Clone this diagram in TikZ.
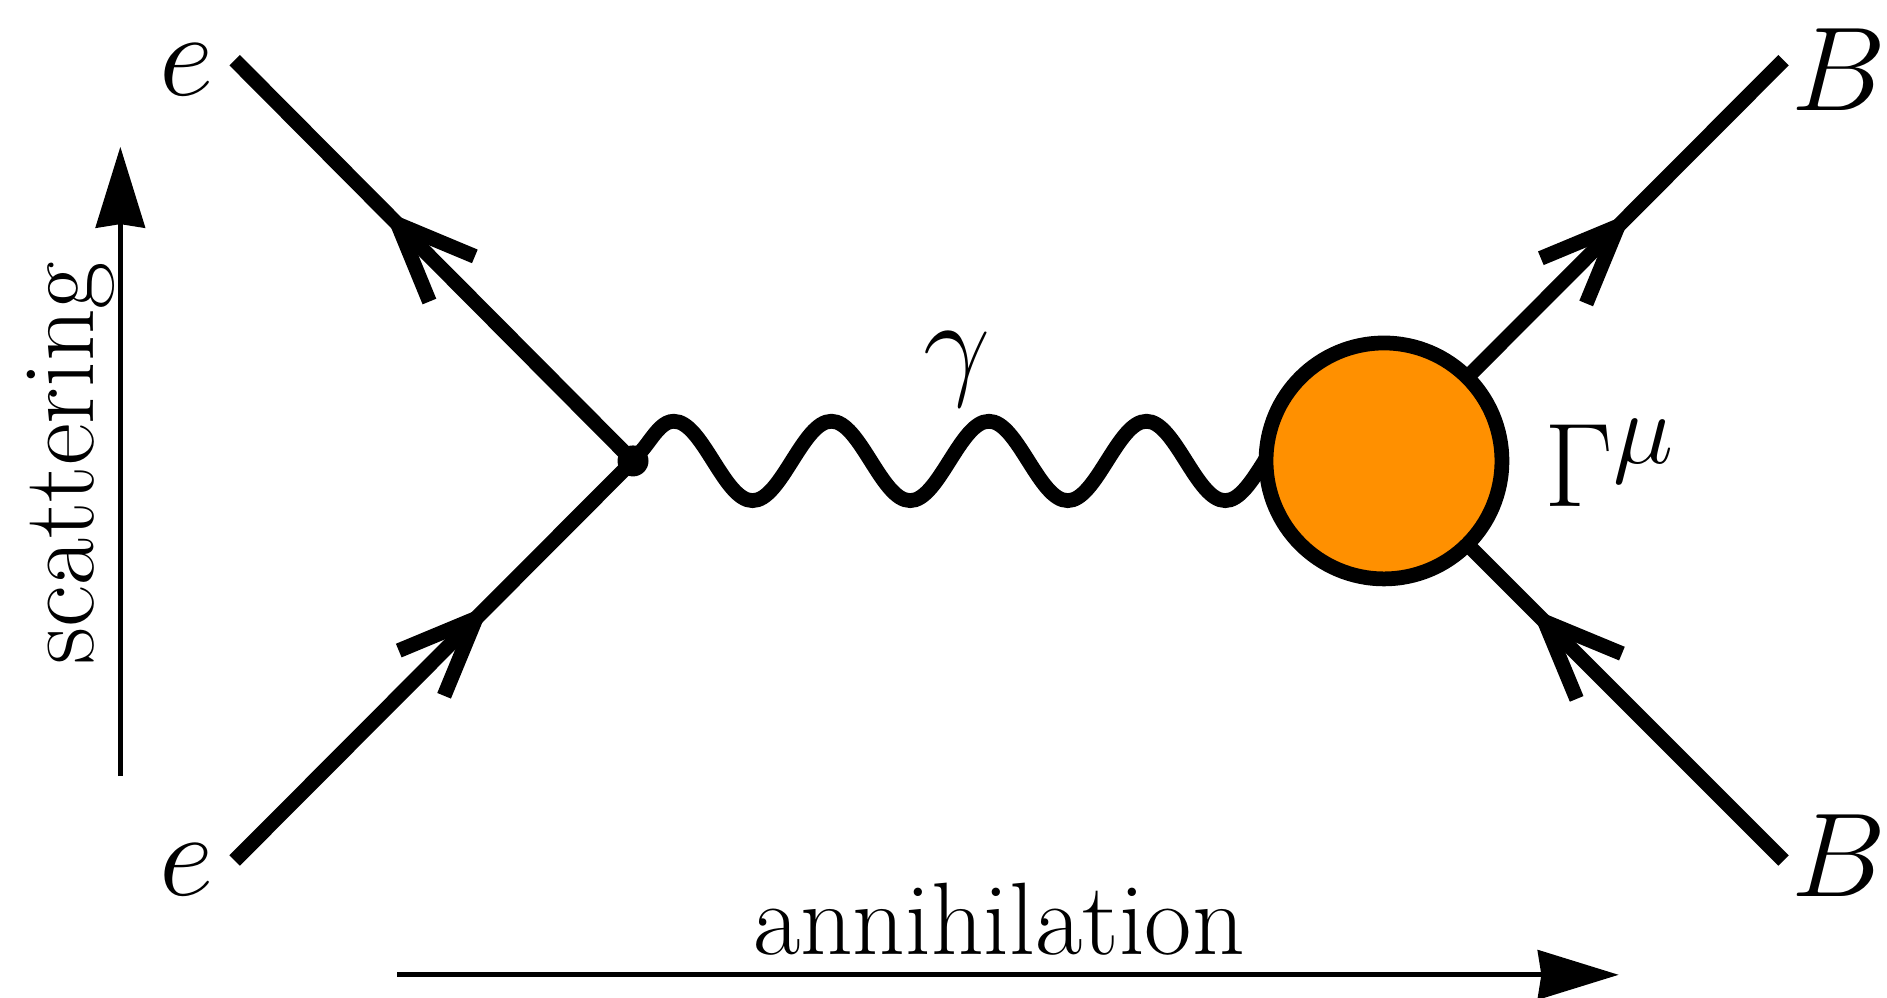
\documentclass[tikz,border=0pt]{standalone}
\usepackage{fix-cm}
\usepackage{amsmath,amssymb}
\usepackage{xcolor}
\usepackage{tikz}
\usetikzlibrary{arrows.meta,positioning,backgrounds,decorations.markings,decorations.pathmorphing}

\definecolor{blobcolor}{HTML}{FF9000}
\DeclareMathSizes{34}{34}{29}{20}

\tikzset{
  fermion/.style={line width=4.2pt,decoration={markings,mark=at position #1 with {\arrow[line width=4.2pt]{Straight Barb[length=22pt,width=18pt,angle'=45]}}},postaction=decorate},
  photon/.style={line width=4.2pt,decorate,decoration={snake,segment length=1.576cm,amplitude=0.397cm}},
  axisarrow/.style={line width=1.4pt,-{Stealth[length=23pt,width=14pt,inset=1pt]}},
  mathlabel/.style={font=\fontsize{34}{36}\selectfont,inner sep=0pt,anchor=base},
  textlabel/.style={font=\fontsize{29.3}{32}\selectfont,inner sep=0pt,anchor=base},
}

\begin{document}
\begin{tikzpicture}[x=0.012034cm,y=-0.012034cm]
  \useasboundingbox (0,0) rectangle (1568,828.5);

  % vertices
  \node[circle,fill=black,inner sep=0pt,minimum size=0.31cm] (vertex) at (526,383) {};
  \node[circle,draw=black,fill=blobcolor,line width=4.2pt,inner sep=0pt,minimum size=2.36cm] (blob) at (1150,383) {};

  % outer ends of the lines
  \coordinate (eup) at (195,50);
  \coordinate (edown) at (195,715);
  \coordinate (bup) at (1482,50);
  \coordinate (bdown) at (1482,715);
  \coordinate (wavestart) at (519,383);

  % labels
  \node[mathlabel] (elabup) at (155,79) {$e$};
  \node[mathlabel] (elabdown) at (155,744) {$e$};
  \node[mathlabel] (blabup) at (1528,92) {$B$};
  \node[mathlabel] (blabdown) at (1528,745) {$B$};
  \node[mathlabel] (gamma) at (795,319) {$\gamma$};
  \node[mathlabel,anchor=base west] (gammu) at (1283,421) {$\Gamma^{\mu}$};
  \node[textlabel] (annih) at (830,793) {annihilation};
  \node[textlabel,rotate=90] (scatt) at (78,385) {scattering};

  % lines
  \begin{scope}[on background layer]
    \draw[fermion=0.625] (vertex.center) -- (eup);
    \draw[fermion=0.64] (edown) -- (vertex.center);
    \draw[fermion=0.62] (blob.center) -- (bup);
    \draw[fermion=0.632] (bdown) -- (blob.center);
    \draw[photon] (wavestart) -- (blob.center);
  \end{scope}

  % direction arrows
  \coordinate (scattfrom) at (100,645);
  \coordinate (scattto) at (100,122);
  \coordinate (annihfrom) at (330,810);
  \coordinate (annihto) at (1345,810);
  \draw[axisarrow] (scattfrom) -- (scattto);
  \draw[axisarrow] (annihfrom) -- (annihto);
\end{tikzpicture}
\end{document}
